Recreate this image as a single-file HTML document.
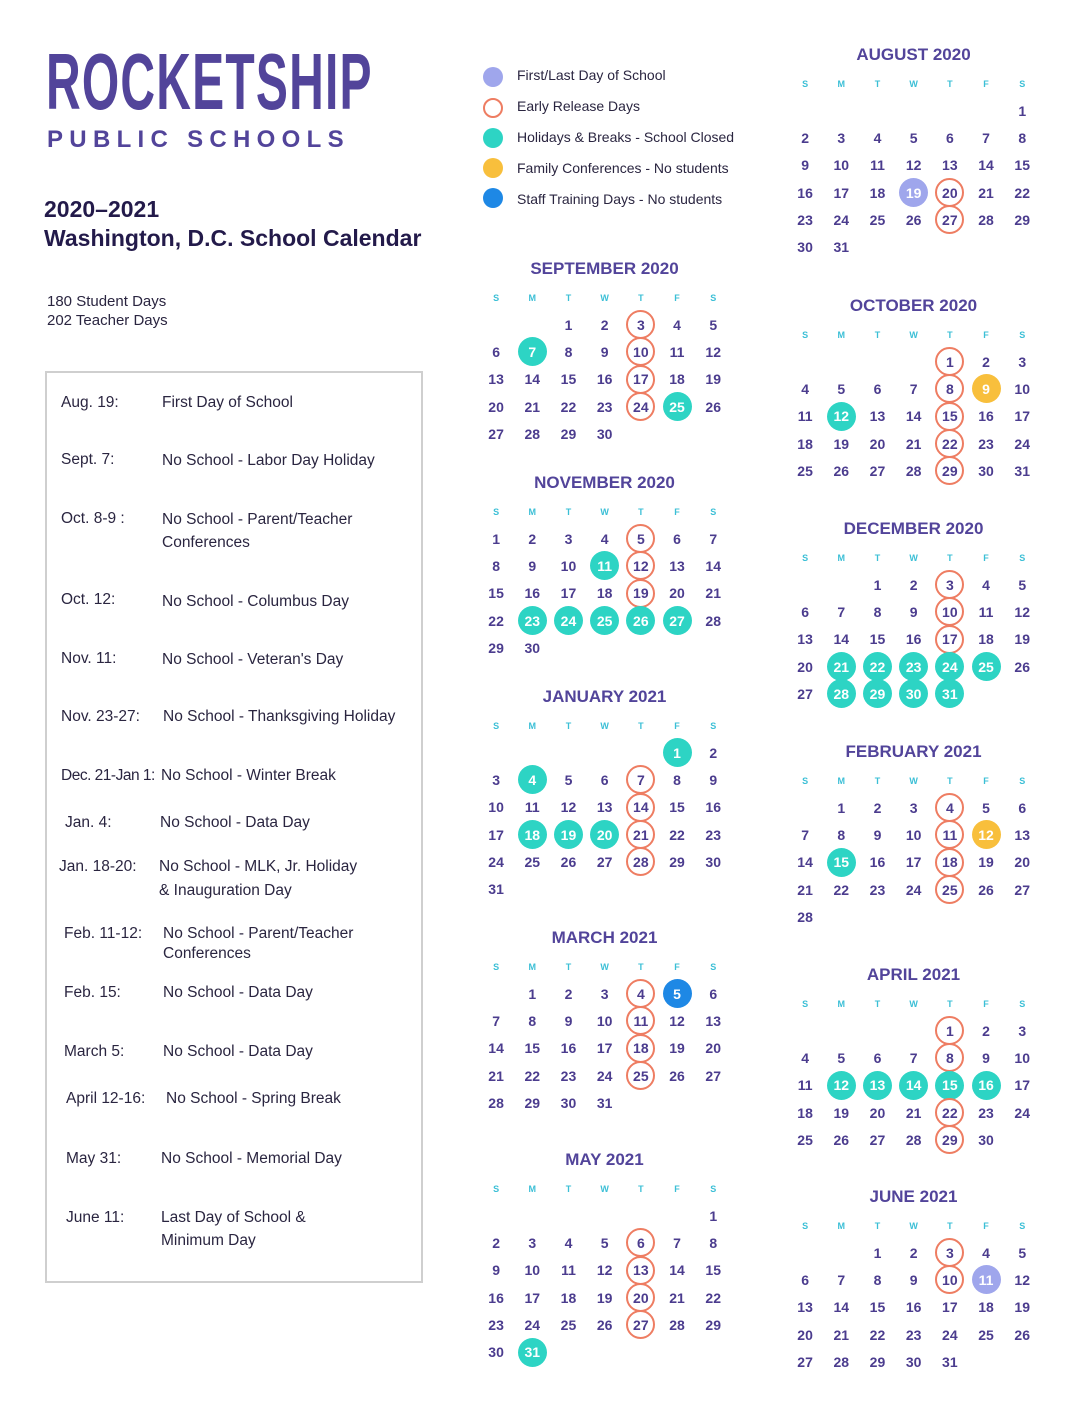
<!DOCTYPE html>
<html><head><meta charset="utf-8"><style>
*{margin:0;padding:0;box-sizing:border-box}
body{width:1088px;height:1408px;background:#fff;position:relative;font-family:"Liberation Sans",sans-serif;overflow:hidden}
.a{position:absolute;white-space:nowrap}
.logo{left:46px;top:42px;font-size:80px;font-weight:bold;color:#52449a;letter-spacing:2px;transform:scaleX(0.6);transform-origin:left top;line-height:80px;font-family:"Liberation Sans Narrow","Liberation Sans",sans-serif}
.ps{left:47px;top:126px;font-size:24px;font-weight:bold;color:#52449a;letter-spacing:6.3px;line-height:28px}
.h{left:44px;font-size:23px;font-weight:bold;color:#231a4a;line-height:28px}
.e{font-size:15.5px;color:#2a2540;line-height:20px}
.box{left:45px;top:371px;width:378px;height:912px;border:2px solid #cfcfcf}
.lg{font-size:14px;color:#2a2540;line-height:18px}
.dot{position:absolute;width:20px;height:20px;border-radius:50%}
.m{position:absolute;width:253px;text-align:center}
.m .t{font-size:17px;font-weight:bold;color:#52449a;line-height:20px;height:20px}
.g{display:grid;grid-template-columns:repeat(7,36.2px);font-weight:bold;color:#4b3c8e;font-size:14px}
.d{margin-top:9px;color:#3bbfd6;font-size:9px;line-height:20px;height:20px}
.n{margin-top:3px;grid-auto-rows:27.3px}
.n span{display:flex;align-items:center;justify-content:center}
.n span i{font-style:normal;width:29px;height:29px;border-radius:50%;display:flex;align-items:center;justify-content:center}
.o i{border:2.5px solid #ee7d62}
.t2 i{background:#2dd4c4;color:#fff}
.l i{background:#9fa6ec;color:#fff}
.y i{background:#f8bf3c;color:#fff}
.b i{background:#1e88e5;color:#fff}
</style></head><body>
<div class="a logo">ROCKETSHIP</div>
<div class="a ps">PUBLIC SCHOOLS</div>
<div class="a h" style="top:195px">2020–2021</div>
<div class="a h" style="top:224px">Washington, D.C. School Calendar</div>
<div class="a e" style="left:47px;top:292px;font-size:15px">180 Student Days</div>
<div class="a e" style="left:47px;top:311px;font-size:15px">202 Teacher Days</div>
<div class="a box"></div>
<div class="a e" style="left:61px;top:393px">Aug. 19:</div><div class="a e" style="left:162px;top:393px">First Day of School</div>
<div class="a e" style="left:61px;top:450px">Sept. 7:</div><div class="a e" style="left:162px;top:451px">No School - Labor Day Holiday</div>
<div class="a e" style="left:61px;top:509px">Oct. 8-9 :</div><div class="a e" style="left:162px;top:510px">No School - Parent/Teacher</div><div class="a e" style="left:162px;top:533px">Conferences</div>
<div class="a e" style="left:61px;top:590px">Oct. 12:</div><div class="a e" style="left:162px;top:592px">No School - Columbus Day</div>
<div class="a e" style="left:61px;top:649px">Nov. 11:</div><div class="a e" style="left:162px;top:650px">No School - Veteran's Day</div>
<div class="a e" style="left:61px;top:707px">Nov. 23-27:</div><div class="a e" style="left:163px;top:707px">No School - Thanksgiving Holiday</div>
<div class="a e" style="left:61px;top:766px;letter-spacing:-0.5px">Dec. 21-Jan 1:</div><div class="a e" style="left:161px;top:766px">No School - Winter Break</div>
<div class="a e" style="left:65px;top:813px">Jan. 4:</div><div class="a e" style="left:160px;top:813px">No School - Data Day</div>
<div class="a e" style="left:59px;top:857px">Jan. 18-20:</div><div class="a e" style="left:159px;top:857px">No School - MLK, Jr. Holiday</div><div class="a e" style="left:159px;top:881px">&amp; Inauguration Day</div>
<div class="a e" style="left:64px;top:924px">Feb. 11-12:</div><div class="a e" style="left:163px;top:924px">No School - Parent/Teacher</div><div class="a e" style="left:163px;top:944px">Conferences</div>
<div class="a e" style="left:64px;top:983px">Feb. 15:</div><div class="a e" style="left:163px;top:983px">No School - Data Day</div>
<div class="a e" style="left:64px;top:1042px">March 5:</div><div class="a e" style="left:163px;top:1042px">No School - Data Day</div>
<div class="a e" style="left:66px;top:1089px">April 12-16:</div><div class="a e" style="left:166px;top:1089px">No School - Spring Break</div>
<div class="a e" style="left:66px;top:1149px">May 31:</div><div class="a e" style="left:161px;top:1149px">No School - Memorial Day</div>
<div class="a e" style="left:66px;top:1208px">June 11:</div><div class="a e" style="left:161px;top:1208px">Last Day of School &amp;</div><div class="a e" style="left:161px;top:1231px">Minimum Day</div>

<div class="dot" style="left:483px;top:67px;background:#9fa6ec"></div><div class="a lg" style="left:517px;top:66px">First/Last Day of School</div>
<div class="dot" style="left:483px;top:98px;border:2.5px solid #ee7d62"></div><div class="a lg" style="left:517px;top:97px">Early Release Days</div>
<div class="dot" style="left:483px;top:128px;background:#2dd4c4"></div><div class="a lg" style="left:517px;top:128px">Holidays &amp; Breaks - School Closed</div>
<div class="dot" style="left:483px;top:158px;background:#f8bf3c"></div><div class="a lg" style="left:517px;top:159px">Family Conferences - No students</div>
<div class="dot" style="left:483px;top:188px;background:#1e88e5"></div><div class="a lg" style="left:517px;top:190px">Staff Training Days - No students</div>

<div class="m" style="left:478px;top:259px"><div class="t">SEPTEMBER 2020</div>
<div class="g d"><span>S</span><span>M</span><span>T</span><span>W</span><span>T</span><span>F</span><span>S</span></div>
<div class="g n"><span></span><span></span><span><i>1</i></span><span><i>2</i></span><span class="o"><i>3</i></span><span><i>4</i></span><span><i>5</i></span>
<span><i>6</i></span><span class="t2"><i>7</i></span><span><i>8</i></span><span><i>9</i></span><span class="o"><i>10</i></span><span><i>11</i></span><span><i>12</i></span>
<span><i>13</i></span><span><i>14</i></span><span><i>15</i></span><span><i>16</i></span><span class="o"><i>17</i></span><span><i>18</i></span><span><i>19</i></span>
<span><i>20</i></span><span><i>21</i></span><span><i>22</i></span><span><i>23</i></span><span class="o"><i>24</i></span><span class="t2"><i>25</i></span><span><i>26</i></span>
<span><i>27</i></span><span><i>28</i></span><span><i>29</i></span><span><i>30</i></span></div></div>

<div class="m" style="left:478px;top:473px"><div class="t">NOVEMBER 2020</div>
<div class="g d"><span>S</span><span>M</span><span>T</span><span>W</span><span>T</span><span>F</span><span>S</span></div>
<div class="g n"><span><i>1</i></span><span><i>2</i></span><span><i>3</i></span><span><i>4</i></span><span class="o"><i>5</i></span><span><i>6</i></span><span><i>7</i></span>
<span><i>8</i></span><span><i>9</i></span><span><i>10</i></span><span class="t2"><i>11</i></span><span class="o"><i>12</i></span><span><i>13</i></span><span><i>14</i></span>
<span><i>15</i></span><span><i>16</i></span><span><i>17</i></span><span><i>18</i></span><span class="o"><i>19</i></span><span><i>20</i></span><span><i>21</i></span>
<span><i>22</i></span><span class="t2"><i>23</i></span><span class="t2"><i>24</i></span><span class="t2"><i>25</i></span><span class="t2"><i>26</i></span><span class="t2"><i>27</i></span><span><i>28</i></span>
<span><i>29</i></span><span><i>30</i></span></div></div>

<div class="m" style="left:478px;top:687px"><div class="t">JANUARY 2021</div>
<div class="g d"><span>S</span><span>M</span><span>T</span><span>W</span><span>T</span><span>F</span><span>S</span></div>
<div class="g n"><span></span><span></span><span></span><span></span><span></span><span class="t2"><i>1</i></span><span><i>2</i></span>
<span><i>3</i></span><span class="t2"><i>4</i></span><span><i>5</i></span><span><i>6</i></span><span class="o"><i>7</i></span><span><i>8</i></span><span><i>9</i></span>
<span><i>10</i></span><span><i>11</i></span><span><i>12</i></span><span><i>13</i></span><span class="o"><i>14</i></span><span><i>15</i></span><span><i>16</i></span>
<span><i>17</i></span><span class="t2"><i>18</i></span><span class="t2"><i>19</i></span><span class="t2"><i>20</i></span><span class="o"><i>21</i></span><span><i>22</i></span><span><i>23</i></span>
<span><i>24</i></span><span><i>25</i></span><span><i>26</i></span><span><i>27</i></span><span class="o"><i>28</i></span><span><i>29</i></span><span><i>30</i></span>
<span><i>31</i></span></div></div>

<div class="m" style="left:478px;top:928px"><div class="t">MARCH 2021</div>
<div class="g d"><span>S</span><span>M</span><span>T</span><span>W</span><span>T</span><span>F</span><span>S</span></div>
<div class="g n"><span></span><span><i>1</i></span><span><i>2</i></span><span><i>3</i></span><span class="o"><i>4</i></span><span class="b"><i>5</i></span><span><i>6</i></span>
<span><i>7</i></span><span><i>8</i></span><span><i>9</i></span><span><i>10</i></span><span class="o"><i>11</i></span><span><i>12</i></span><span><i>13</i></span>
<span><i>14</i></span><span><i>15</i></span><span><i>16</i></span><span><i>17</i></span><span class="o"><i>18</i></span><span><i>19</i></span><span><i>20</i></span>
<span><i>21</i></span><span><i>22</i></span><span><i>23</i></span><span><i>24</i></span><span class="o"><i>25</i></span><span><i>26</i></span><span><i>27</i></span>
<span><i>28</i></span><span><i>29</i></span><span><i>30</i></span><span><i>31</i></span></div></div>

<div class="m" style="left:478px;top:1150px"><div class="t">MAY 2021</div>
<div class="g d"><span>S</span><span>M</span><span>T</span><span>W</span><span>T</span><span>F</span><span>S</span></div>
<div class="g n"><span></span><span></span><span></span><span></span><span></span><span></span><span><i>1</i></span>
<span><i>2</i></span><span><i>3</i></span><span><i>4</i></span><span><i>5</i></span><span class="o"><i>6</i></span><span><i>7</i></span><span><i>8</i></span>
<span><i>9</i></span><span><i>10</i></span><span><i>11</i></span><span><i>12</i></span><span class="o"><i>13</i></span><span><i>14</i></span><span><i>15</i></span>
<span><i>16</i></span><span><i>17</i></span><span><i>18</i></span><span><i>19</i></span><span class="o"><i>20</i></span><span><i>21</i></span><span><i>22</i></span>
<span><i>23</i></span><span><i>24</i></span><span><i>25</i></span><span><i>26</i></span><span class="o"><i>27</i></span><span><i>28</i></span><span><i>29</i></span>
<span><i>30</i></span><span class="t2"><i>31</i></span></div></div>

<div class="m" style="left:787px;top:45px"><div class="t">AUGUST 2020</div>
<div class="g d"><span>S</span><span>M</span><span>T</span><span>W</span><span>T</span><span>F</span><span>S</span></div>
<div class="g n"><span></span><span></span><span></span><span></span><span></span><span></span><span><i>1</i></span>
<span><i>2</i></span><span><i>3</i></span><span><i>4</i></span><span><i>5</i></span><span><i>6</i></span><span><i>7</i></span><span><i>8</i></span>
<span><i>9</i></span><span><i>10</i></span><span><i>11</i></span><span><i>12</i></span><span><i>13</i></span><span><i>14</i></span><span><i>15</i></span>
<span><i>16</i></span><span><i>17</i></span><span><i>18</i></span><span class="l"><i>19</i></span><span class="o"><i>20</i></span><span><i>21</i></span><span><i>22</i></span>
<span><i>23</i></span><span><i>24</i></span><span><i>25</i></span><span><i>26</i></span><span class="o"><i>27</i></span><span><i>28</i></span><span><i>29</i></span>
<span><i>30</i></span><span><i>31</i></span></div></div>

<div class="m" style="left:787px;top:296px"><div class="t">OCTOBER 2020</div>
<div class="g d"><span>S</span><span>M</span><span>T</span><span>W</span><span>T</span><span>F</span><span>S</span></div>
<div class="g n"><span></span><span></span><span></span><span></span><span class="o"><i>1</i></span><span><i>2</i></span><span><i>3</i></span>
<span><i>4</i></span><span><i>5</i></span><span><i>6</i></span><span><i>7</i></span><span class="o"><i>8</i></span><span class="y"><i>9</i></span><span><i>10</i></span>
<span><i>11</i></span><span class="t2"><i>12</i></span><span><i>13</i></span><span><i>14</i></span><span class="o"><i>15</i></span><span><i>16</i></span><span><i>17</i></span>
<span><i>18</i></span><span><i>19</i></span><span><i>20</i></span><span><i>21</i></span><span class="o"><i>22</i></span><span><i>23</i></span><span><i>24</i></span>
<span><i>25</i></span><span><i>26</i></span><span><i>27</i></span><span><i>28</i></span><span class="o"><i>29</i></span><span><i>30</i></span><span><i>31</i></span></div></div>

<div class="m" style="left:787px;top:519px"><div class="t">DECEMBER 2020</div>
<div class="g d"><span>S</span><span>M</span><span>T</span><span>W</span><span>T</span><span>F</span><span>S</span></div>
<div class="g n"><span></span><span></span><span><i>1</i></span><span><i>2</i></span><span class="o"><i>3</i></span><span><i>4</i></span><span><i>5</i></span>
<span><i>6</i></span><span><i>7</i></span><span><i>8</i></span><span><i>9</i></span><span class="o"><i>10</i></span><span><i>11</i></span><span><i>12</i></span>
<span><i>13</i></span><span><i>14</i></span><span><i>15</i></span><span><i>16</i></span><span class="o"><i>17</i></span><span><i>18</i></span><span><i>19</i></span>
<span><i>20</i></span><span class="t2"><i>21</i></span><span class="t2"><i>22</i></span><span class="t2"><i>23</i></span><span class="t2"><i>24</i></span><span class="t2"><i>25</i></span><span><i>26</i></span>
<span><i>27</i></span><span class="t2"><i>28</i></span><span class="t2"><i>29</i></span><span class="t2"><i>30</i></span><span class="t2"><i>31</i></span></div></div>

<div class="m" style="left:787px;top:742px"><div class="t">FEBRUARY 2021</div>
<div class="g d"><span>S</span><span>M</span><span>T</span><span>W</span><span>T</span><span>F</span><span>S</span></div>
<div class="g n"><span></span><span><i>1</i></span><span><i>2</i></span><span><i>3</i></span><span class="o"><i>4</i></span><span><i>5</i></span><span><i>6</i></span>
<span><i>7</i></span><span><i>8</i></span><span><i>9</i></span><span><i>10</i></span><span class="o"><i>11</i></span><span class="y"><i>12</i></span><span><i>13</i></span>
<span><i>14</i></span><span class="t2"><i>15</i></span><span><i>16</i></span><span><i>17</i></span><span class="o"><i>18</i></span><span><i>19</i></span><span><i>20</i></span>
<span><i>21</i></span><span><i>22</i></span><span><i>23</i></span><span><i>24</i></span><span class="o"><i>25</i></span><span><i>26</i></span><span><i>27</i></span>
<span><i>28</i></span></div></div>

<div class="m" style="left:787px;top:965px"><div class="t">APRIL 2021</div>
<div class="g d"><span>S</span><span>M</span><span>T</span><span>W</span><span>T</span><span>F</span><span>S</span></div>
<div class="g n"><span></span><span></span><span></span><span></span><span class="o"><i>1</i></span><span><i>2</i></span><span><i>3</i></span>
<span><i>4</i></span><span><i>5</i></span><span><i>6</i></span><span><i>7</i></span><span class="o"><i>8</i></span><span><i>9</i></span><span><i>10</i></span>
<span><i>11</i></span><span class="t2"><i>12</i></span><span class="t2"><i>13</i></span><span class="t2"><i>14</i></span><span class="t2"><i>15</i></span><span class="t2"><i>16</i></span><span><i>17</i></span>
<span><i>18</i></span><span><i>19</i></span><span><i>20</i></span><span><i>21</i></span><span class="o"><i>22</i></span><span><i>23</i></span><span><i>24</i></span>
<span><i>25</i></span><span><i>26</i></span><span><i>27</i></span><span><i>28</i></span><span class="o"><i>29</i></span><span><i>30</i></span></div></div>

<div class="m" style="left:787px;top:1187px"><div class="t">JUNE 2021</div>
<div class="g d"><span>S</span><span>M</span><span>T</span><span>W</span><span>T</span><span>F</span><span>S</span></div>
<div class="g n"><span></span><span></span><span><i>1</i></span><span><i>2</i></span><span class="o"><i>3</i></span><span><i>4</i></span><span><i>5</i></span>
<span><i>6</i></span><span><i>7</i></span><span><i>8</i></span><span><i>9</i></span><span class="o"><i>10</i></span><span class="l"><i>11</i></span><span><i>12</i></span>
<span><i>13</i></span><span><i>14</i></span><span><i>15</i></span><span><i>16</i></span><span><i>17</i></span><span><i>18</i></span><span><i>19</i></span>
<span><i>20</i></span><span><i>21</i></span><span><i>22</i></span><span><i>23</i></span><span><i>24</i></span><span><i>25</i></span><span><i>26</i></span>
<span><i>27</i></span><span><i>28</i></span><span><i>29</i></span><span><i>30</i></span><span><i>31</i></span></div></div>
</body></html>
